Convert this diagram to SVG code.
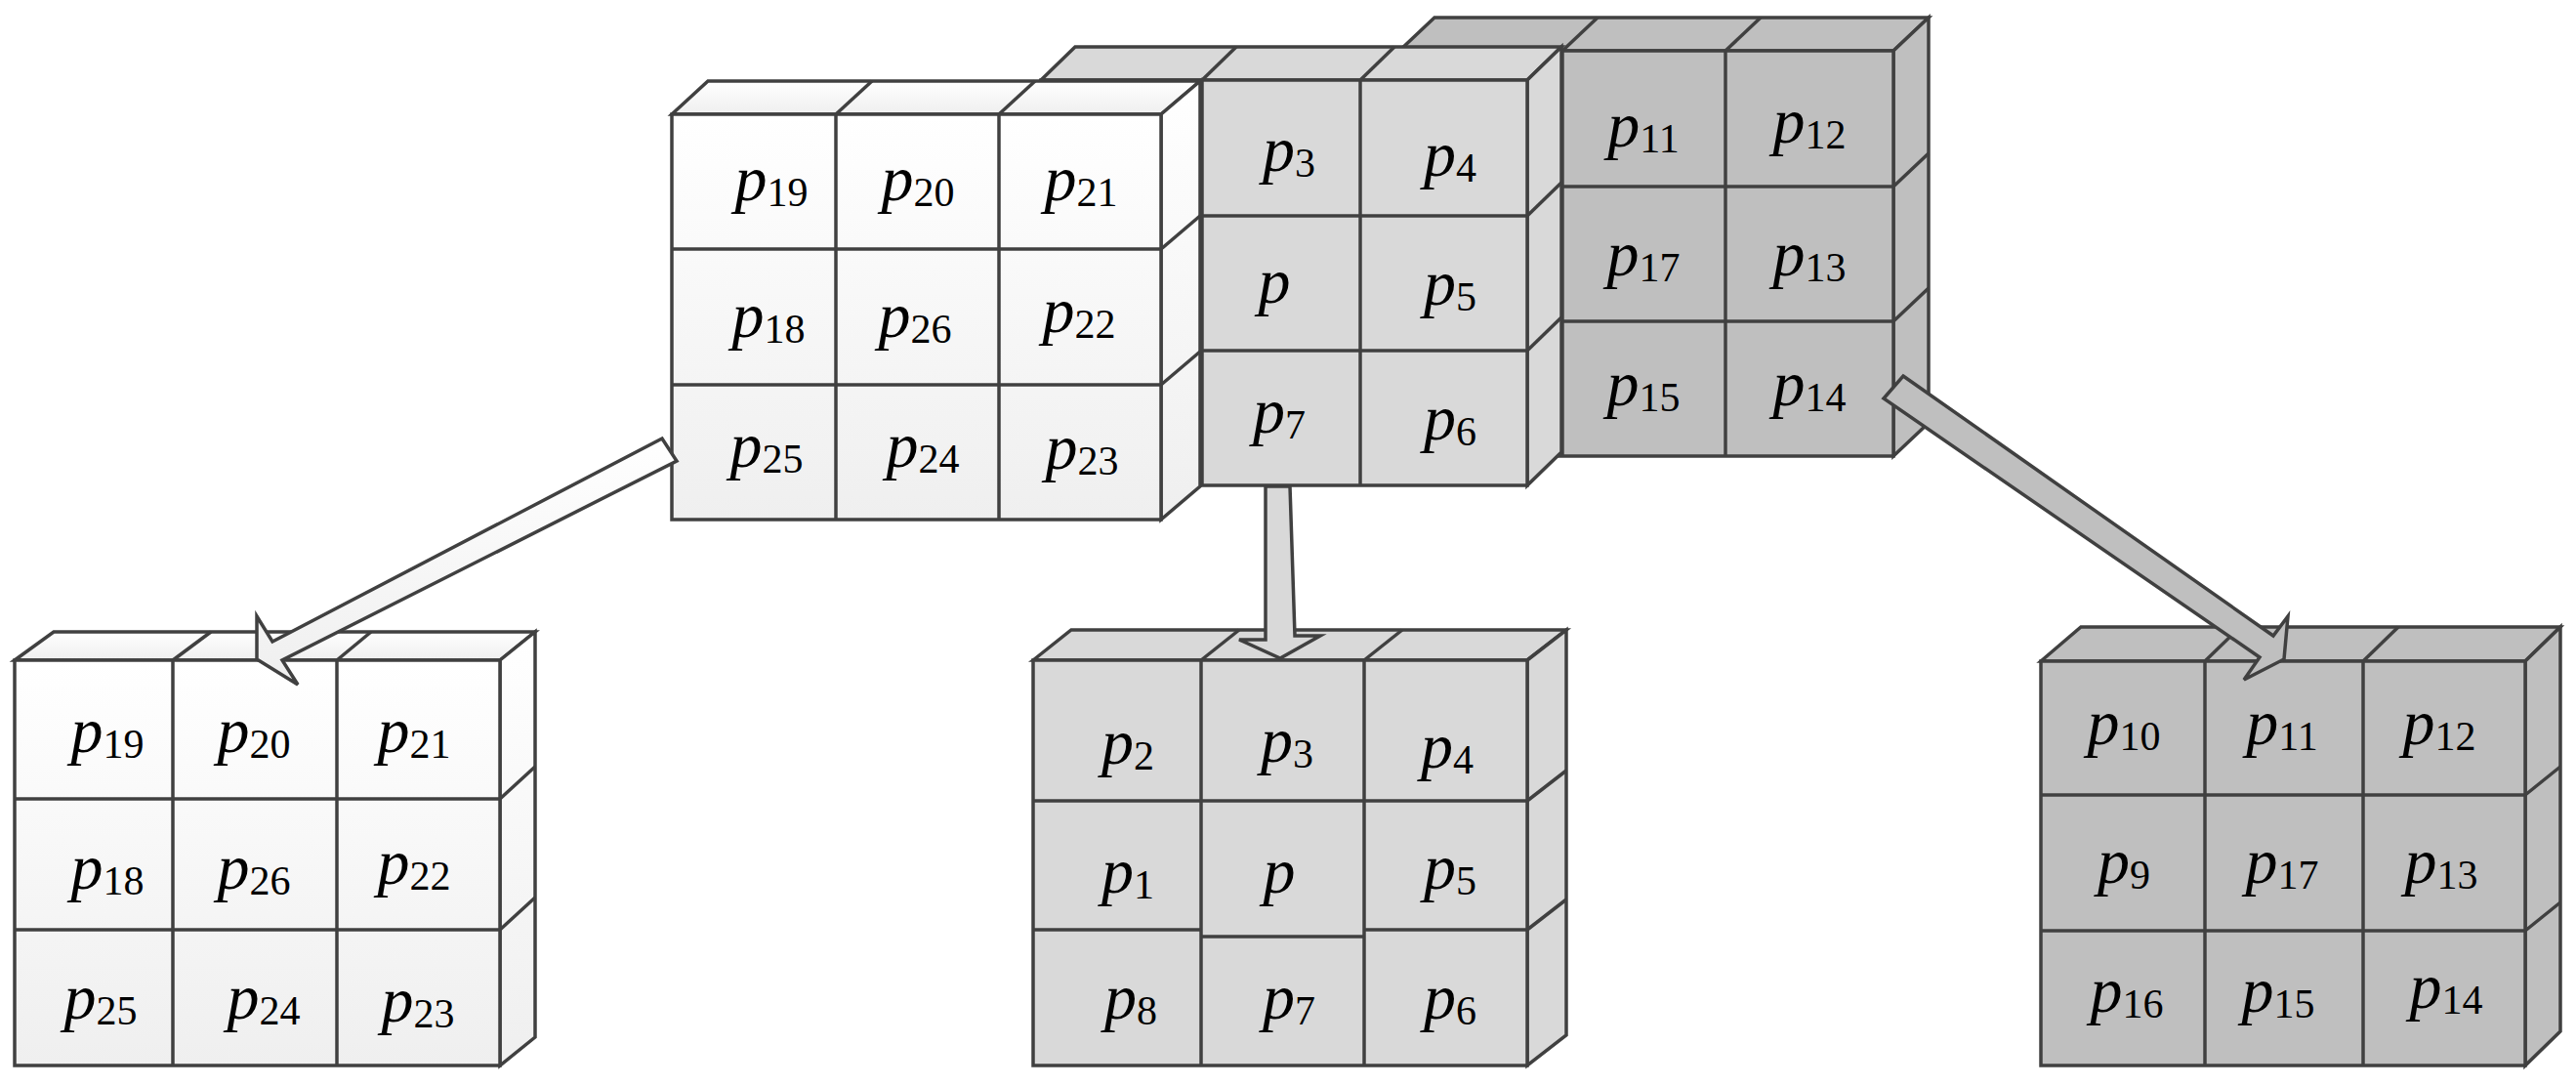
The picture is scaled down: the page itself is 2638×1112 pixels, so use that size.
<svg xmlns="http://www.w3.org/2000/svg" width="2638" height="1112" viewBox="0 0 2638 1112">
<defs>
<linearGradient id="wg" x1="0" y1="0" x2="0" y2="1"><stop offset="0" stop-color="#ffffff"/><stop offset="1" stop-color="#efefef"/></linearGradient>
<style>
.e{stroke:#404040;stroke-width:3.5;stroke-linejoin:miter}
.w{fill:url(#wg)} .m{fill:#d9d9d9} .d{fill:#bfbfbf}
.l{fill:none;stroke:#404040;stroke-width:3.5}
text{font-family:"Liberation Serif","Times New Roman",serif;font-style:italic;font-size:66px;fill:#000;text-anchor:middle}
tspan{font-style:normal;font-size:42px}
</style>
</defs>
<rect width="2638" height="1112" fill="#fff"/>
<g id="top-dark">
<polygon class="e d" points="1433,52 1469,18 1975,18 1939,52"/>
<line class="l" x1="1600" y1="52" x2="1636" y2="18"/><line class="l" x1="1767" y1="52" x2="1803" y2="18"/>
<polygon class="e d" points="1939,52 1975,18 1975,433 1939,467"/>
<line class="l" x1="1939" y1="191" x2="1975" y2="157"/><line class="l" x1="1939" y1="329" x2="1975" y2="295"/>
<rect class="e d" x="1433" y="52" width="506" height="415"/>
<line class="l" x1="1600" y1="52" x2="1600" y2="467"/><line class="l" x1="1767" y1="52" x2="1767" y2="467"/>
<line class="l" x1="1433" y1="191" x2="1939" y2="191"/><line class="l" x1="1433" y1="329" x2="1939" y2="329"/>
<text x="1683" y="150">p<tspan dy="6">11</tspan></text><text x="1853" y="146">p<tspan dy="6">12</tspan></text>
<text x="1683" y="282">p<tspan dy="6">17</tspan></text><text x="1853" y="282">p<tspan dy="6">13</tspan></text>
<text x="1683" y="415">p<tspan dy="6">15</tspan></text><text x="1853" y="415">p<tspan dy="6">14</tspan></text>
</g>
<g id="top-mid">
<polygon class="e m" points="1066,82 1101,48 1599,48 1564,82"/>
<line class="l" x1="1231" y1="82" x2="1266" y2="48"/><line class="l" x1="1393" y1="82" x2="1428" y2="48"/>
<polygon class="e m" points="1564,82 1599,48 1599,463 1564,497"/>
<line class="l" x1="1564" y1="221" x2="1599" y2="187"/><line class="l" x1="1564" y1="359" x2="1599" y2="325"/>
<rect class="e m" x="1066" y="82" width="498" height="415"/>
<line class="l" x1="1231" y1="82" x2="1231" y2="497"/><line class="l" x1="1393" y1="82" x2="1393" y2="497"/>
<line class="l" x1="1066" y1="221" x2="1564" y2="221"/><line class="l" x1="1066" y1="359" x2="1564" y2="359"/>
<text x="1320" y="175">p<tspan dy="6">3</tspan></text><text x="1485" y="180">p<tspan dy="6">4</tspan></text>
<text x="1305" y="310">p</text><text x="1485" y="312">p<tspan dy="6">5</tspan></text>
<text x="1310" y="443">p<tspan dy="6">7</tspan></text><text x="1485" y="450">p<tspan dy="6">6</tspan></text>
</g>
<g id="top-white">
<polygon class="e w" points="688,117 725,83 1229,83 1189,117"/>
<line class="l" x1="856" y1="117" x2="893" y2="83"/><line class="l" x1="1023" y1="117" x2="1060" y2="83"/>
<polygon class="e w" points="1189,117 1229,83 1229,498 1189,532"/>
<line class="l" x1="1189" y1="255" x2="1229" y2="221"/><line class="l" x1="1189" y1="394" x2="1229" y2="360"/>
<rect class="e w" x="688" y="117" width="501" height="415"/>
<line class="l" x1="856" y1="117" x2="856" y2="532"/><line class="l" x1="1023" y1="117" x2="1023" y2="532"/>
<line class="l" x1="688" y1="255" x2="1189" y2="255"/><line class="l" x1="688" y1="394" x2="1189" y2="394"/>
<text x="790" y="205">p<tspan dy="6">19</tspan></text><text x="940" y="205">p<tspan dy="6">20</tspan></text><text x="1107" y="205">p<tspan dy="6">21</tspan></text>
<text x="787" y="345">p<tspan dy="6">18</tspan></text><text x="937" y="345">p<tspan dy="6">26</tspan></text><text x="1105" y="340">p<tspan dy="6">22</tspan></text>
<text x="785" y="478">p<tspan dy="6">25</tspan></text><text x="945" y="478">p<tspan dy="6">24</tspan></text><text x="1108" y="480">p<tspan dy="6">23</tspan></text>
</g>
<g id="bottom-white">
<polygon class="e w" points="15,676 55,647 548,647 512,676"/>
<line class="l" x1="177" y1="676" x2="216" y2="647"/><line class="l" x1="345" y1="676" x2="380" y2="647"/>
<polygon class="e w" points="512,676 548,647 548,1062 512,1091"/>
<line class="l" x1="512" y1="818" x2="548" y2="785"/><line class="l" x1="512" y1="952" x2="548" y2="919"/>
<rect class="e w" x="15" y="676" width="497" height="415"/>
<line class="l" x1="177" y1="676" x2="177" y2="1091"/><line class="l" x1="345" y1="676" x2="345" y2="1091"/>
<line class="l" x1="15" y1="818" x2="512" y2="818"/><line class="l" x1="15" y1="952" x2="512" y2="952"/>
<text x="110" y="770">p<tspan dy="6">19</tspan></text><text x="260" y="770">p<tspan dy="6">20</tspan></text><text x="424" y="770">p<tspan dy="6">21</tspan></text>
<text x="110" y="910">p<tspan dy="6">18</tspan></text><text x="260" y="910">p<tspan dy="6">26</tspan></text><text x="424" y="905">p<tspan dy="6">22</tspan></text>
<text x="103" y="1043">p<tspan dy="6">25</tspan></text><text x="270" y="1043">p<tspan dy="6">24</tspan></text><text x="428" y="1046">p<tspan dy="6">23</tspan></text>
</g>
<g id="bottom-mid">
<polygon class="e m" points="1058,676 1097,645 1604,645 1564,676"/>
<line class="l" x1="1230" y1="676" x2="1269" y2="645"/><line class="l" x1="1397" y1="676" x2="1436" y2="645"/>
<polygon class="e m" points="1564,676 1604,645 1604,1060 1564,1091"/>
<line class="l" x1="1564" y1="820" x2="1604" y2="789"/><line class="l" x1="1564" y1="952" x2="1604" y2="921"/>
<rect class="e m" x="1058" y="676" width="506" height="415"/>
<line class="l" x1="1230" y1="676" x2="1230" y2="1091"/><line class="l" x1="1397" y1="676" x2="1397" y2="1091"/>
<line class="l" x1="1058" y1="820" x2="1564" y2="820"/><line class="l" x1="1058" y1="952" x2="1230" y2="952"/><line class="l" x1="1230" y1="959" x2="1397" y2="959"/><line class="l" x1="1397" y1="952" x2="1564" y2="952"/>
<text x="1155" y="782">p<tspan dy="6">2</tspan></text><text x="1318" y="780">p<tspan dy="6">3</tspan></text><text x="1482" y="786">p<tspan dy="6">4</tspan></text>
<text x="1155" y="914">p<tspan dy="6">1</tspan></text><text x="1310" y="914">p</text><text x="1485" y="910">p<tspan dy="6">5</tspan></text>
<text x="1158" y="1043">p<tspan dy="6">8</tspan></text><text x="1320" y="1043">p<tspan dy="6">7</tspan></text><text x="1485" y="1043">p<tspan dy="6">6</tspan></text>
</g>
<g id="bottom-dark">
<polygon class="e d" points="2090,677 2131,642 2622,642 2586,677"/>
<line class="l" x1="2258" y1="677" x2="2294" y2="642"/><line class="l" x1="2420" y1="677" x2="2456" y2="642"/>
<polygon class="e d" points="2586,677 2622,642 2622,1056 2586,1091"/>
<line class="l" x1="2586" y1="814" x2="2622" y2="785"/><line class="l" x1="2586" y1="953" x2="2622" y2="924"/>
<rect class="e d" x="2090" y="677" width="496" height="414"/>
<line class="l" x1="2258" y1="677" x2="2258" y2="1091"/><line class="l" x1="2420" y1="677" x2="2420" y2="1091"/>
<line class="l" x1="2090" y1="814" x2="2586" y2="814"/><line class="l" x1="2090" y1="953" x2="2586" y2="953"/>
<text x="2175" y="762">p<tspan dy="6">10</tspan></text><text x="2337" y="762">p<tspan dy="6">11</tspan></text><text x="2498" y="762">p<tspan dy="6">12</tspan></text>
<text x="2175" y="904">p<tspan dy="6">9</tspan></text><text x="2337" y="904">p<tspan dy="6">17</tspan></text><text x="2500" y="904">p<tspan dy="6">13</tspan></text>
<text x="2178" y="1036">p<tspan dy="6">16</tspan></text><text x="2333" y="1036">p<tspan dy="6">15</tspan></text><text x="2505" y="1032">p<tspan dy="6">14</tspan></text>
</g>
<g id="connectors">
<polygon class="e w" points="678,449 279,657 263,631 263,675 305,701 289,676 693,472"/>
<polygon class="e m" points="1296,498 1321,498 1326,651 1352,651 1311,674 1269,655 1296,655"/>
<polygon class="e d" points="1949,385 2328,651 2343,631 2339,675 2298,696 2314,673 1929,408"/>
</g>
</svg>
